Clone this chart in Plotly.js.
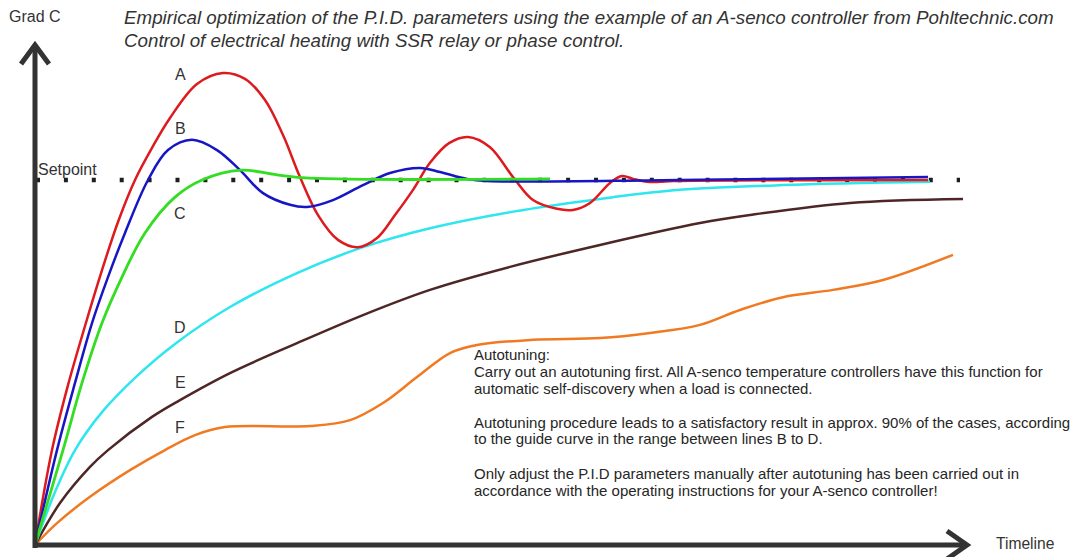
<!DOCTYPE html>
<html><head><meta charset="utf-8">
<script src="https://cdn.plot.ly/plotly-3.0.1.min.js"></script>
<style>html,body{margin:0;padding:0;background:#fff}#chart{width:1074px;height:557px}</style>
</head><body><div id="chart"></div>
<script>
// Time (arbitrary units) and temperature (setpoint = 100)
const tA = [0, 1.7, 3.3, 5.0, 6.7, 8.3, 10.0, 11.7, 13.5, 16.2, 18.8, 21.0, 23.0, 24.8, 26.5, 28.3, 30.3, 32.3, 34.2, 36.0, 37.8, 39.5, 41.4, 43.3, 45.5, 47.8, 49.8, 52.2, 53.8, 55.5, 57.5, 58.7, 59.8, 61.2, 62.5, 63.8, 89.3];
const yA = [0, 26.0, 43.8, 60.0, 75.3, 88.5, 100, 108.8, 117.0, 126.3, 129.3, 127.7, 121.9, 112.3, 100.8, 90.4, 83.6, 81.6, 84.1, 90.4, 97.3, 104.7, 110.1, 111.8, 109.0, 100.8, 94.5, 92.1, 91.8, 93.7, 99.2, 101.1, 100.3, 99.5, 99.5, 99.7, 100];
const tB = [0, 2.2, 4.0, 5.7, 7.3, 9.0, 11.3, 13.3, 15.7, 18.2, 20.5, 22.8, 25.5, 27.2, 29.8, 32.8, 35.5, 38.5, 40.5, 43.2, 45.2, 64.5, 89.3];
const yB = [0, 26.0, 44.4, 60.8, 73.4, 85.5, 100, 108.2, 111.0, 108.2, 102.7, 96.4, 93.2, 92.6, 94.5, 98.6, 101.9, 103.3, 102.2, 100.3, 99.7, 100, 100.8];
const tC = [0, 2.8, 4.7, 6.7, 8.7, 11.0, 14.0, 16.7, 20.6, 24.2, 27.5, 51.5];
const yC = [0, 26.0, 44.4, 60.8, 73.4, 85.5, 95.3, 100, 102.7, 101.4, 100.5, 100.3];
const tD = [0, 2.0, 4.0, 6.7, 10.0, 14.0, 19.5, 26.2, 32.8, 39.5, 47.5, 57.8, 64.5, 74.8, 89.5];
const yD = [0, 14.5, 26.0, 36.4, 45.8, 55.1, 65.2, 74.5, 81.6, 86.8, 91.2, 95.3, 97.3, 98.6, 99.5];
const tE = [0, 2.5, 5.5, 7.3, 11.7, 14.5, 19.5, 26.2, 32.8, 39.5, 47.5, 56.5, 66.5, 71.5, 81.5, 92.8];
const yE = [0, 11.5, 21.4, 26.0, 35.1, 39.7, 47.1, 55.3, 63.0, 69.9, 76.2, 82.2, 88.2, 90.4, 93.7, 94.8];
const tF = [0, 2.2, 5.5, 9.5, 13.0, 16.0, 19.0, 27.5, 31.5, 34.8, 38.2, 41.5, 44.2, 49.8, 56.5, 61.5, 66.5, 70.5, 74.8, 79.8, 84.8, 91.8];
const yF = [0, 6.0, 13.2, 20.5, 26.0, 30.1, 32.3, 32.6, 34.2, 38.9, 46.0, 52.6, 54.8, 56.2, 56.7, 58.1, 60.3, 64.4, 67.9, 69.9, 72.6, 79.5];
const setpointT = [0.1, 92.5];
const setpointY = [100, 100];
const curveNames = ["A", "B", "C", "D", "E", "F"];
const labelT = [14.5, 14.5, 14.5, 14.5, 14.5, 14.5];
const labelY = [129.0, 114.2, 90.7, 59.7, 44.4, 32.3];
const titleLines = ["Empirical optimization of the P.I.D. parameters using the example of an A-senco controller from Pohltechnic.com",
                    "Control of electrical heating with SSR relay or phase control."];
const noteLines = ["Autotuning:",
  "Carry out an autotuning first. All A-senco temperature controllers have this function for",
  "automatic self-discovery when a load is connected.",
  "",
  "Autotuning procedure leads to a satisfactory result in approx. 90% of the cases, according",
  "to the guide curve in the range between lines B to D.",
  "",
  "Only adjust the P.I.D parameters manually after autotuning has been carried out in",
  "accordance with the operating instructions for your A-senco controller!"];

const W = 1074, H = 557;
const px = x => x / W, py = y => 1 - y / H;
function path(pts){ return pts.map((p,i)=>(i?'L':'M')+px(p[0])+','+py(p[1])).join(' '); }

const line = (t, y, color, w) => ({x: t, y: y, type: 'scatter', mode: 'lines',
  line: {color: color, width: w || 2.5, shape: 'spline', smoothing: 1.0}, hoverinfo: 'skip'});

const data = [
  {x: setpointT, y: setpointY, type: 'scatter', mode: 'lines',
   line: {color: '#1e1e1e', width: 4.5, dash: '4px,23.9px'}, hoverinfo: 'skip'},
  line(tF, yF, '#f07a22'),
  line(tE, yE, '#4e2626'),
  line(tD, yD, '#2ee6ee'),
  line(tA, yA, '#dd1a1e'),
  line(tB, yB, '#1616c4'),
  line(tC, yC, '#33dd22', 2.8)
];

const FONT = 'Liberation Sans, Arial, sans-serif';
const txtColor = '#333333';
const annotations = curveNames.map((n, i) => ({
  x: labelT[i], y: labelY[i], xref: 'x', yref: 'y', text: n, showarrow: false,
  xanchor: 'center', yanchor: 'middle', font: {family: FONT, size: 16, color: txtColor}
}));
titleLines.forEach((s, i) => annotations.push({
  x: px(122), y: py(18 + 22 * i), xref: 'paper', yref: 'paper', xanchor: 'left', yanchor: 'middle',
  showarrow: false, text: '<i>' + s + '</i>', font: {family: FONT, size: 18.75, color: txtColor}}));
noteLines.forEach((s, i) => { if (s) annotations.push({
  x: px(472), y: py(354 + 17 * i), xref: 'paper', yref: 'paper', xanchor: 'left', yanchor: 'middle',
  showarrow: false, text: s, font: {family: FONT, size: 15, color: '#262626'}}); });
annotations.push(
  {x: px(7), y: py(17), xref: 'paper', yref: 'paper', xanchor: 'left', yanchor: 'middle', showarrow: false,
   text: 'Grad C', font: {family: FONT, size: 16, color: txtColor}},
  {x: px(994), y: py(543), xref: 'paper', yref: 'paper', xanchor: 'left', yanchor: 'middle', showarrow: false,
   text: 'Timeline', font: {family: FONT, size: 15.6, color: txtColor}},
  {x: px(36), y: py(169), xref: 'paper', yref: 'paper', xanchor: 'left', yanchor: 'middle', showarrow: false,
   text: 'Setpoint', font: {family: FONT, size: 16, color: txtColor}}
);

const axCol = '#333333';
const shapes = [
  {type: 'path', xref: 'paper', yref: 'paper', path: path([[35,548],[35,45]]), line: {color: axCol, width: 5}},
  {type: 'path', xref: 'paper', yref: 'paper', path: path([[21,64],[35,45],[49,64]]), line: {color: axCol, width: 5}},
  {type: 'path', xref: 'paper', yref: 'paper', path: path([[33,545],[966,545]]), line: {color: axCol, width: 5}},
  {type: 'path', xref: 'paper', yref: 'paper', path: path([[947,531],[967,545],[947,559]]), line: {color: axCol, width: 5}}
];

const layout = {
  width: W, height: H, margin: {l: 0, r: 0, t: 0, b: 0},
  paper_bgcolor: '#ffffff', plot_bgcolor: '#ffffff', showlegend: false,
  xaxis: {range: [-3.5, 103.9], visible: false, fixedrange: true},
  yaxis: {range: [-12/3.65, 545/3.65], visible: false, fixedrange: true},
  annotations: annotations, shapes: shapes
};
Plotly.newPlot('chart', data, layout, {staticPlot: true, displayModeBar: false});
</script></body></html>
